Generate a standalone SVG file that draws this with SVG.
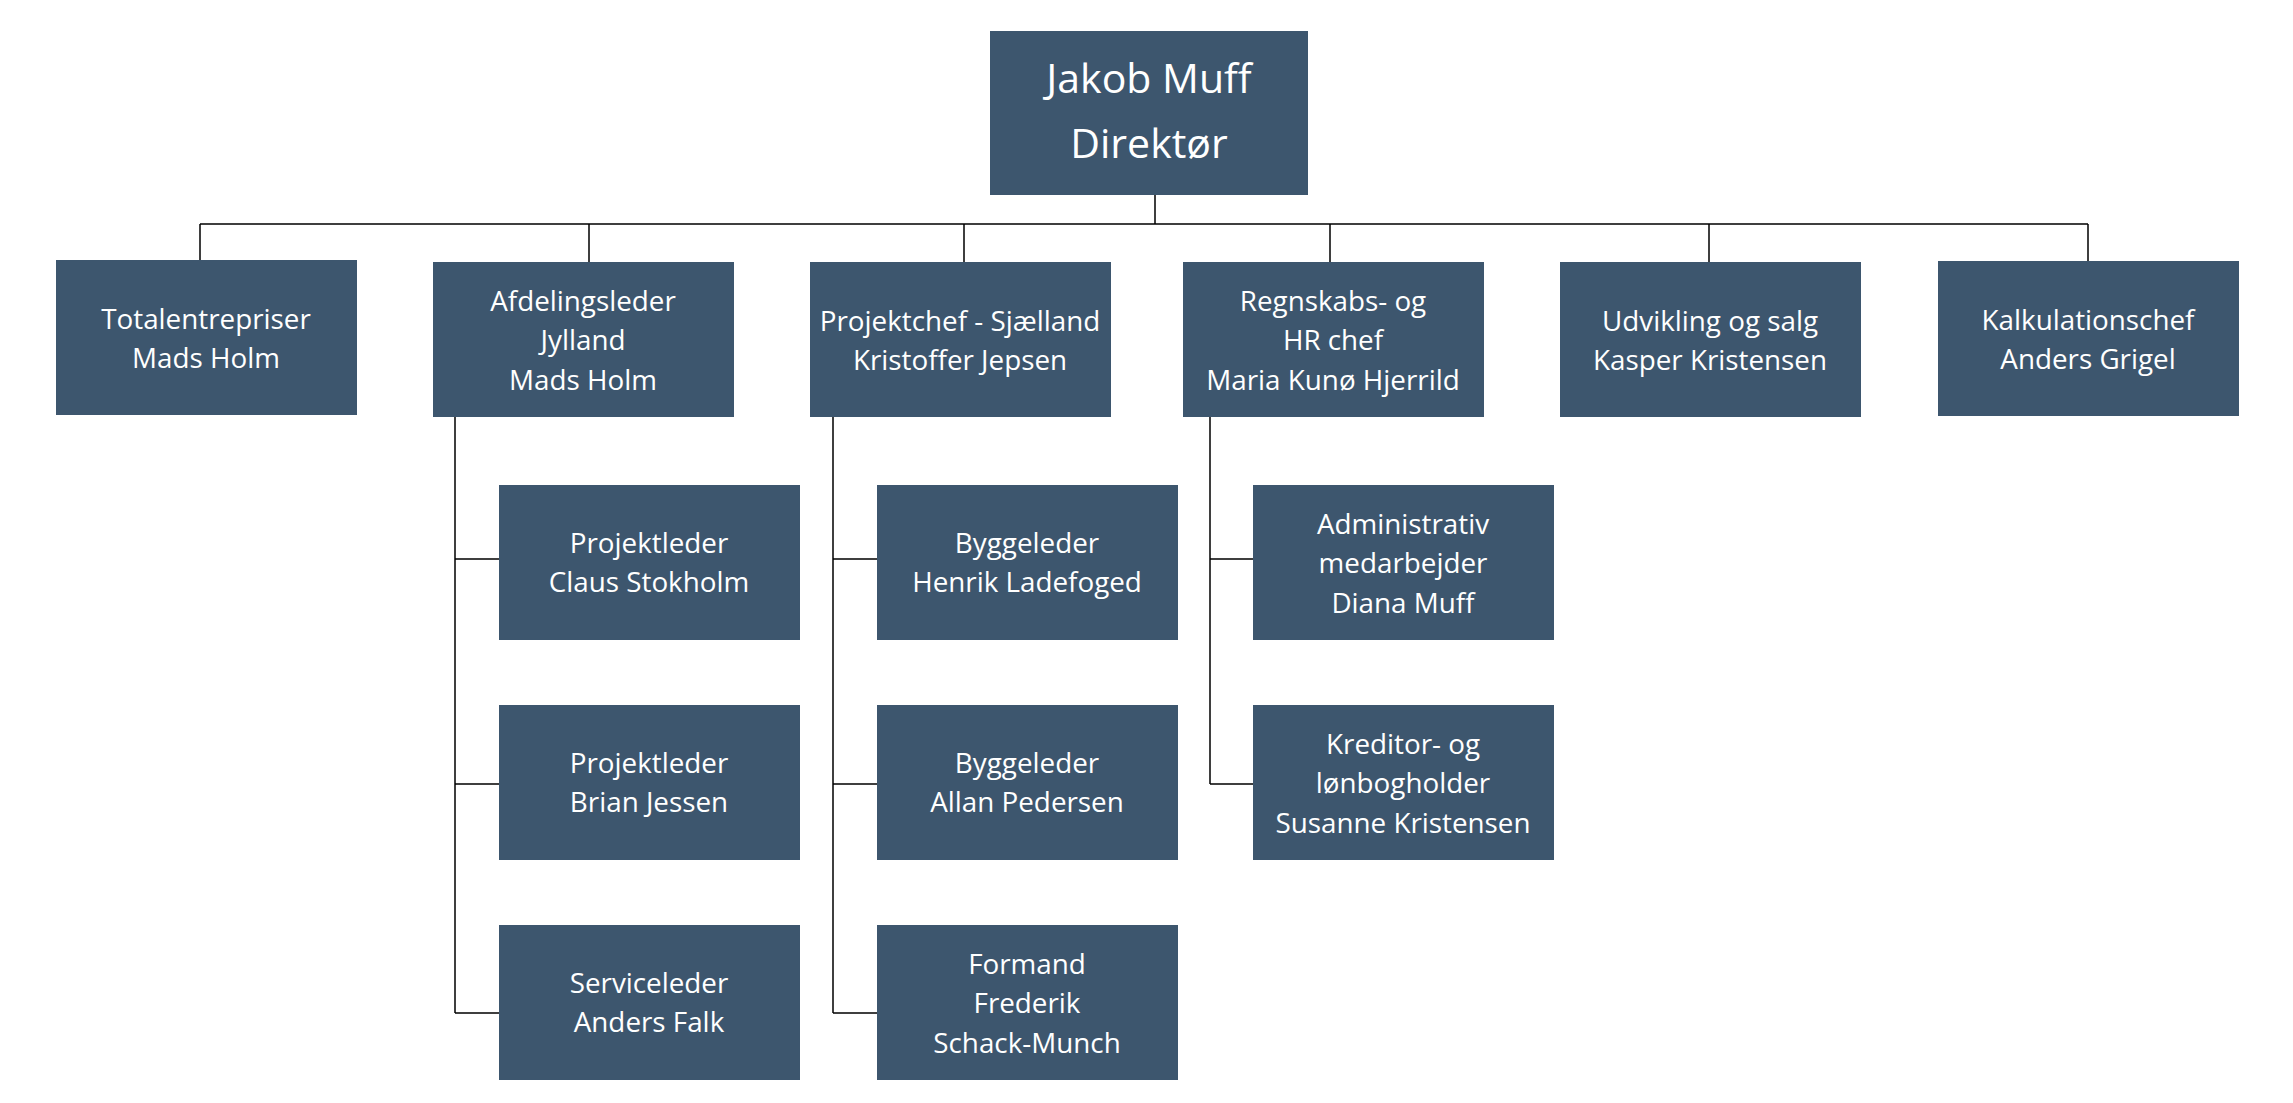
<svg xmlns="http://www.w3.org/2000/svg" width="2293" height="1103" viewBox="0 0 2293 1103">
<style>
.box{fill:#3d566e;}
.t{font-family:"Open Sans","Noto Sans","Liberation Sans",sans-serif;font-size:27.8px;fill:#ffffff;text-anchor:middle;}
.big{font-size:41px;}
.c{stroke:#000;stroke-width:1.5;fill:none;}
</style>
<rect width="2293" height="1103" fill="#ffffff"/>
<g id="connectors">
<path class="c" d="M1155 195V224M200 224H2088M200 224V260M589 224V262M964 224V262M1330 224V262M1709 224V262M2088 224V261"/>
<path class="c" d="M455 417V1013M455 559H499M455 784H499M455 1013H499"/>
<path class="c" d="M833 417V1013M833 559H877M833 784H877M833 1013H877"/>
<path class="c" d="M1210 417V784M1210 559H1253M1210 784H1253"/>
</g>
<g id="n-direktor"><rect class="box" x="990" y="31" width="318" height="164"/><text class="t big" x="1149" y="93">Jakob Muff</text><text class="t big" x="1149" y="158">Direktør</text></g>
<g id="n-total"><rect class="box" x="56" y="260" width="301" height="155"/><text class="t" x="206" y="329">Totalentrepriser</text><text class="t" x="206" y="368">Mads Holm</text></g>
<g id="n-afd"><rect class="box" x="433" y="262" width="301" height="155"/><text class="t" x="583" y="311">Afdelingsleder</text><text class="t" x="583" y="350">Jylland</text><text class="t" x="583" y="390">Mads Holm</text></g>
<g id="n-projchef"><rect class="box" x="810" y="262" width="301" height="155"/><text class="t" x="960" y="331">Projektchef - Sjælland</text><text class="t" x="960" y="370">Kristoffer Jepsen</text></g>
<g id="n-regn"><rect class="box" x="1183" y="262" width="301" height="155"/><text class="t" x="1333" y="311">Regnskabs- og</text><text class="t" x="1333" y="350">HR chef</text><text class="t" x="1333" y="390">Maria Kunø Hjerrild</text></g>
<g id="n-udv"><rect class="box" x="1560" y="262" width="301" height="155"/><text class="t" x="1710" y="331">Udvikling og salg</text><text class="t" x="1710" y="370">Kasper Kristensen</text></g>
<g id="n-kalk"><rect class="box" x="1938" y="261" width="301" height="155"/><text class="t" x="2088" y="330">Kalkulationschef</text><text class="t" x="2088" y="369">Anders Grigel</text></g>
<g id="n-claus"><rect class="box" x="499" y="485" width="301" height="155"/><text class="t" x="649" y="553">Projektleder</text><text class="t" x="649" y="592">Claus Stokholm</text></g>
<g id="n-brian"><rect class="box" x="499" y="705" width="301" height="155"/><text class="t" x="649" y="773">Projektleder</text><text class="t" x="649" y="812">Brian Jessen</text></g>
<g id="n-anders"><rect class="box" x="499" y="925" width="301" height="155"/><text class="t" x="649" y="993">Serviceleder</text><text class="t" x="649" y="1032">Anders Falk</text></g>
<g id="n-henrik"><rect class="box" x="877" y="485" width="301" height="155"/><text class="t" x="1027" y="553">Byggeleder</text><text class="t" x="1027" y="592">Henrik Ladefoged</text></g>
<g id="n-allan"><rect class="box" x="877" y="705" width="301" height="155"/><text class="t" x="1027" y="773">Byggeleder</text><text class="t" x="1027" y="812">Allan Pedersen</text></g>
<g id="n-frederik"><rect class="box" x="877" y="925" width="301" height="155"/><text class="t" x="1027" y="974">Formand</text><text class="t" x="1027" y="1013">Frederik</text><text class="t" x="1027" y="1053">Schack-Munch</text></g>
<g id="n-diana"><rect class="box" x="1253" y="485" width="301" height="155"/><text class="t" x="1403" y="534">Administrativ</text><text class="t" x="1403" y="573">medarbejder</text><text class="t" x="1403" y="613">Diana Muff</text></g>
<g id="n-susanne"><rect class="box" x="1253" y="705" width="301" height="155"/><text class="t" x="1403" y="754">Kreditor- og</text><text class="t" x="1403" y="793">lønbogholder</text><text class="t" x="1403" y="833">Susanne Kristensen</text></g>
</svg>
